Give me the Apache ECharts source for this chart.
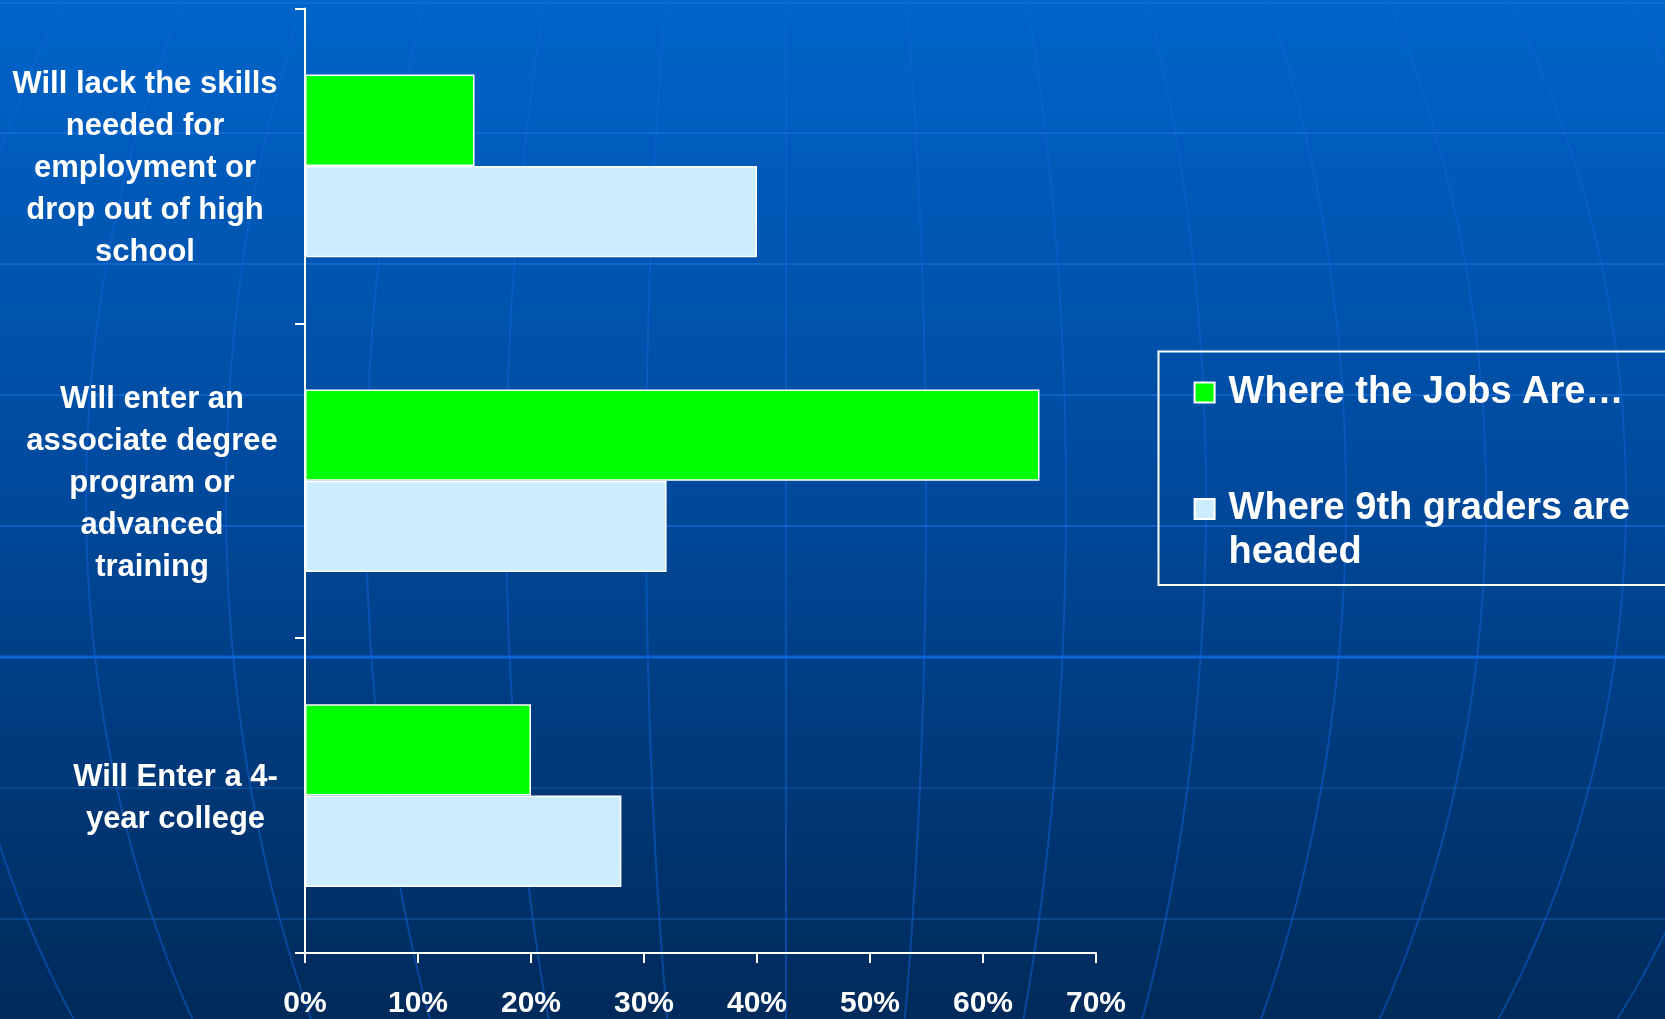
<!DOCTYPE html>
<html>
<head>
<meta charset="utf-8">
<title>Where the Jobs Are</title>
<script src="https://cdn.jsdelivr.net/npm/echarts@6.0.0/dist/echarts.min.js"></script>
<style>
html,body{margin:0;padding:0;background:#00336e;}
#chart{width:1665px;height:1019px;}
</style>
</head>
<body>
<div id="chart"></div>
<script>
var categories = [
	"Will lack the skills\nneeded for\nemployment or\ndrop out of high\nschool",
	"Will enter an\nassociate degree\nprogram or\nadvanced\ntraining",
	"Will Enter a 4-\nyear college"
];
var seriesNames = ["Where the Jobs Are…", "Where 9th graders are headed"];
var jobsData = [15, 65, 20];
var gradersData = [40, 32, 28];
var xMin = 0, xMax = 70, xStep = 10;

var FONT = "Liberation Sans, Arial, sans-serif";

// each label block is as wide as its longest line, lines centred inside it
var ctx = document.createElement("canvas").getContext("2d");
ctx.font = "bold 31px 'Liberation Sans'";
var rich = {};
for (var i = 0; i < categories.length; i++) {
	var lines = categories[i].split("\n");
	var w = 0;
	for (var j = 0; j < lines.length; j++) {
		w = Math.max(w, ctx.measureText(lines[j]).width);
	}
	rich["c" + i] = {
		width: Math.ceil(w), align: "center", color: "#fff",
		fontSize: 31, fontWeight: "bold", fontFamily: FONT, lineHeight: 42
	};
}

// background: the slide's globe grid
var bg = [];
var rows = [3, 133, 264, 395, 526, 657, 788, 919];
for (var r = 0; r < rows.length; r++) {
	var bright = rows[r] == 657;
	bg.push({
		type: "line", silent: true, z: -10,
		shape: {x1: 0, y1: rows[r], x2: 1665, y2: rows[r]},
		style: {
			stroke: bright ? "#0a66d6" : (rows[r] > 700 ? "rgba(20,90,170,0.5)" : "rgba(25,115,225,0.55)"),
			lineWidth: bright ? 3 : 2
		}
	});
}
for (var k = -7; k <= 8; k++) {
	var pts = [];
	for (var y = 0; y <= 1020; y += 15) {
		var t = (y - 500) / 980;
		pts.push([786 + 140 * k * Math.sqrt(1 - t * t), y]);
	}
	bg.push({
		type: "polyline", silent: true, z: -10,
		shape: {points: pts},
		style: {stroke: "rgba(15,100,215,0.5)", lineWidth: 2, fill: null}
	});
}
// legend frame, runs off the right edge like the slide
bg.push({
	type: "rect", silent: true, z: 5,
	shape: {x: 1158.5, y: 351.5, width: 600, height: 233.5},
	style: {stroke: "#fff", lineWidth: 2, fill: null}
});

var legendFont = {color: "#fff", fontSize: 38, fontWeight: "bold", fontFamily: FONT};

var myChart = echarts.init(document.getElementById("chart"));
var option = {
	animation: false,
	backgroundColor: new echarts.graphic.LinearGradient(0, 0, 0, 1, [
		{offset: 0, color: "#0064ca"},
		{offset: 0.5, color: "#00489a"},
		{offset: 1, color: "#002a5a"}
	]),
	graphic: bg,
	grid: {left: 305, right: 569, top: 8.5, bottom: 65.4},
	legend: {
		orient: "vertical",
		left: 1193.6,
		top: 373.5,
		padding: 0,
		itemGap: 78,
		itemWidth: 20,
		itemHeight: 20,
		icon: "rect",
		textStyle: {
			color: "#fff", padding: [0, 0, 0, 9],
			rich: {
				a: Object.assign({lineHeight: 42}, legendFont),
				// second line adds no height, so the square stays on line one
				b: Object.assign({lineHeight: 1, verticalAlign: "top", padding: [4, 0, 0, 0]}, legendFont)
			}
		},
		data: seriesNames,
		formatter: function(name) {
			if (name == seriesNames[1]) {
				return "{a|Where 9th graders are}\n{b|headed}";
			}
			return "{a|" + name + "}";
		}
	},
	xAxis: {
		type: "value",
		min: xMin, max: xMax, interval: xStep,
		splitLine: {show: false},
		axisLine: {show: true, lineStyle: {color: "#fff", width: 2}},
		axisTick: {show: true, length: 10, lineStyle: {color: "#fff", width: 2}},
		axisLabel: {
			color: "#fff", fontSize: 30, fontWeight: "bold", fontFamily: FONT,
			margin: 36, formatter: "{value}%"
		}
	},
	yAxis: {
		type: "category",
		inverse: true,
		data: categories,
		axisLine: {show: true, lineStyle: {color: "#fff", width: 2}},
		axisTick: {show: true, length: 10, lineStyle: {color: "#fff", width: 2}},
		axisLabel: {
			margin: 27,
			align: "right",
			padding: [5, 0, 0, 0],
			rich: rich,
			formatter: function(value, index) {
				return value.split("\n").map(function(l) {
					return "{c" + index + "|" + l + "}";
				}).join("\n");
			}
		}
	},
	series: [
		{
			name: seriesNames[0], type: "bar", data: jobsData,
			barGap: "0%", barCategoryGap: "42%",
			itemStyle: {color: "#00ff00", borderColor: "#fff", borderWidth: 1.5}
		},
		{
			name: seriesNames[1], type: "bar", data: gradersData,
			barGap: "0%", barCategoryGap: "42%",
			itemStyle: {color: "#ccecff", borderColor: "#fff", borderWidth: 1.5}
		}
	]
};
myChart.setOption(option);
</script>
</body>
</html>
